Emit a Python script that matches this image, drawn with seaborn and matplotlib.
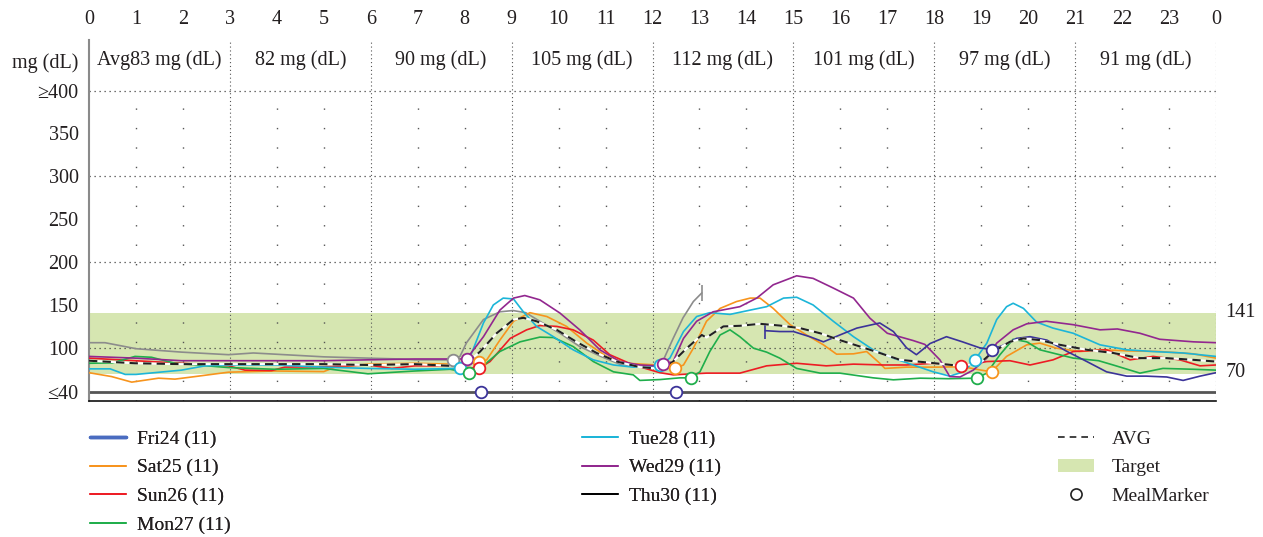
import matplotlib
matplotlib.use('Agg')
import matplotlib.pyplot as plt
from matplotlib.lines import Line2D
from matplotlib.patches import Patch
import seaborn as sns

# ---- data (hours of day, mg/dL) ----
HOURS = list(range(25))
HOUR_LABELS = [str(h % 24) for h in HOURS]
BLOCK_LABELS = ['Avg83 mg (dL)', '82 mg (dL)', '90 mg (dL)', '105 mg (dL)',
                '112 mg (dL)', '101 mg (dL)', '97 mg (dL)', '91 mg (dL)']
Y_TICKS = [100, 150, 200, 250, 300, 350, 400]
LOW_ROW = 49        # where the "<=40" row is drawn
HEADER_ROW = 435    # where the "mg (dL)" header row is drawn
TARGET = (70, 141)

gray_h = [0, 0.34, 1.0, 1.97, 2.97, 3.5, 4.17, 5.0, 5.94, 6.62, 6.94, 7.75, 7.9, 8.04, 8.4, 8.75,
          9.03, 9.3, 9.6, 10.03, 10.45, 10.9, 11.3, 11.73, 12.1, 12.2, 12.44, 12.65, 12.87, 13.05]
gray_v = [106, 106, 99, 95, 92, 94, 92, 89.5, 88, 87, 86, 86, 90, 106, 133, 142,
          143.5, 141, 131, 117, 101.5, 90, 81, 78, 78, 82, 111, 135, 154, 164]

fri_h = [14.4, 14.71, 15.0, 15.35, 15.64, 15.99, 16.35, 16.84, 17.13, 17.41, 17.62, 17.91, 18.26,
         18.6, 18.97, 19.22, 19.47, 19.75, 20.04, 20.4, 20.82, 21.25, 21.67, 22.1, 22.52, 22.95,
         23.3, 23.66, 24.0]
fri_v = [120, 119, 119, 113, 107, 115, 123, 129, 119, 100, 92, 105, 113,
         107, 100, 98, 103, 111, 113, 109, 96, 84, 72, 67, 67, 66,
         62, 67, 71]

sat_h = [0, 0.48, 0.91, 1.48, 1.83, 2.26, 2.97, 3.96, 5.0, 5.24, 5.94, 6.94, 7.69, 8.3, 8.47, 8.75,
         9.04, 9.39, 9.75, 10.17, 10.6, 11.02, 11.45, 12.09, 12.48, 12.66, 12.87, 13.15, 13.44,
         13.79, 14.08, 14.29, 14.57, 14.93, 15.28, 15.64, 15.92, 16.28, 16.56, 16.84, 16.95, 17.41,
         18.05, 18.6, 19.0, 19.22, 19.54, 19.97, 20.25, 20.6, 21.1, 21.6, 22.1, 22.8, 23.52, 24.0]
sat_v = [71, 66.5, 60, 64.6, 63.5, 66.5, 71.6, 73, 72.3, 77.5, 81, 82, 81, 83, 86, 109,
         131, 141, 136.5, 125, 105.5, 90, 82, 80, 76, 80, 99.6, 131, 146,
         154, 158, 158, 146, 127, 115, 103.5, 92.6, 93, 95.7, 82, 76, 77.5,
         77.5, 78, 74, 72, 90, 103.5, 105.5, 99.6, 95.7, 97.7, 96.5, 95.7, 93, 88]

sun_h = [0, 0.98, 1.97, 2.97, 3.32, 3.89, 4.17, 5.0, 5.94, 6.45, 6.94, 7.69, 8.3, 8.54, 8.97, 9.32,
         9.6, 9.96, 10.31, 10.74, 11.09, 11.59, 12.16, 12.44, 13.15, 13.86, 14.43, 15.07, 15.7,
         16.28, 16.91, 17.41, 17.98, 18.58, 19.12, 19.61, 20.04, 20.53, 20.96, 21.67, 22.17,
         22.66, 23.23, 23.66, 24.0]
sun_v = [88, 85, 82, 79, 74, 73.5, 77.5, 78, 80, 76, 79, 79, 76, 84, 111, 121,
         126, 125, 121, 109, 92, 80, 71, 68.5, 70.5, 70.5, 79, 82, 79,
         81, 80, 80, 82, 79, 84, 85, 80, 86, 95.7, 97.7, 86,
         90, 86, 79, 80]

mon_h = [0, 0.5, 0.98, 1.33, 1.83, 2.97, 3.96, 5.0, 5.6, 5.94, 6.94, 7.69, 8.09, 8.33, 8.75, 9.18,
         9.6, 9.89, 10.31, 10.74, 11.17, 11.59, 11.73, 12.16, 12.58, 12.81, 13.01, 13.22, 13.44,
         13.65, 13.86, 14.15, 14.43, 14.71, 15.07, 15.57, 15.99, 16.7, 17.13, 17.7, 18.3, 18.9,
         19.12, 19.4, 19.68, 19.97, 20.25, 20.96, 21.5, 21.81, 22.38, 22.87, 23.52, 24.0]
mon_v = [82, 82.5, 90, 89, 82, 77, 75, 76, 72, 69.7, 73, 75, 71, 76, 95.7, 107,
         112.5, 112, 101.5, 84, 72, 68.5, 62, 63, 65, 65, 72, 95.7, 115,
         121, 113, 99.6, 95, 88, 76, 70.5, 70.5, 65, 62.7, 64.6, 64, 64.6,
         70.5, 92, 110, 107, 97.7, 88, 85, 80, 70.5, 76, 75, 74]

tue_h = [0, 0.45, 0.77, 1.0, 1.97, 2.47, 2.97, 3.96, 5.0, 5.94, 6.94, 7.9, 8.15, 8.4, 8.61, 8.82,
         9.04, 9.25, 9.53, 9.89, 10.31, 10.74, 11.17, 11.59, 12.09, 12.16, 12.37, 12.66, 12.94,
         13.22, 13.65, 14.08, 14.43, 14.79, 15.07, 15.42, 15.85, 16.28, 16.7, 17.13, 17.55, 17.98,
         18.33, 18.62, 18.87, 19.12, 19.33, 19.54, 19.68, 19.9, 20.18, 20.53, 20.96, 21.53, 22.1,
         22.66, 23.3, 24.0]
tue_v = [75.5, 75.5, 69, 69, 74, 79, 80, 80, 77.5, 76, 75, 76, 94, 129, 150, 158,
         157, 142, 125, 113, 97.7, 86, 80, 77.5, 77.5, 80, 88, 119, 136.5,
         141, 139, 144, 148, 158, 159, 150, 131, 113, 97.7, 88, 80, 72,
         67, 72, 86, 105.5, 133, 148, 152, 146, 130, 123, 117, 103.5, 97.7,
         95.7, 94, 90]

wed_h = [0, 0.98, 1.97, 2.97, 3.96, 5.0, 5.94, 6.94, 8.04, 8.4, 8.75, 9.04, 9.28, 9.6, 10.03, 10.45,
         10.88, 11.3, 11.73, 12.09, 12.23, 12.44, 12.66, 12.94, 13.29, 13.86, 14.22, 14.57, 15.07,
         15.42, 15.85, 16.28, 16.63, 17.0, 17.55, 17.8, 18.12, 18.33, 18.55, 18.83, 19.12, 19.33,
         19.68, 19.97, 20.39, 20.96, 21.53, 21.9, 22.38, 22.8, 23.52, 24.0]
wed_v = [90, 88, 85, 85, 85, 85, 86, 87, 87, 113, 144, 158, 161, 156, 140.5, 121,
         97.7, 84, 80, 79, 81, 84, 111, 131, 142, 148, 158, 173.5, 184,
         181, 169.7, 158, 134.6, 117, 108.5, 104, 86, 66.5, 66, 74, 88, 105.5,
         121, 128, 131, 127, 121, 122, 117, 110, 107, 106]

avg_h = [0, 0.98, 1.97, 2.97, 3.96, 5.0, 5.94, 6.94, 7.69, 8.04, 8.33, 8.68, 9.04, 9.25, 9.53, 9.96,
         10.38, 10.81, 11.24, 11.73, 12.09, 12.16, 12.44, 12.73, 13.05, 13.15, 13.51, 13.86, 14.29,
         14.71, 15.14, 15.57, 15.99, 16.42, 16.84, 17.27, 17.84, 18.55, 18.97, 19.26, 19.61, 19.9,
         20.25, 20.68, 21.25, 21.81, 22.38, 22.95, 23.52, 24.0]
avg_v = [85, 82, 81, 81, 81, 81, 80, 81, 79, 82, 95.7, 117, 133, 135, 131, 121,
         107, 94, 84, 77.5, 76, 74, 84, 99.6, 115, 112, 125, 125.7, 128,
         126, 123, 117, 109, 101.5, 94, 86, 83, 79, 82, 95.7, 107, 111,
         109, 103.5, 97.7, 94, 88, 88, 86, 84]

# meal markers (hour, value) per day
meal_gray = ([7.75], [86])
meal_fri = ([8.35, 12.5, 19.22], [LOW_ROW, LOW_ROW, 98])
meal_sat = ([8.3, 12.48, 19.22], [83, 76, 72])
meal_sun = ([8.3, 18.58], [76, 79])
meal_mon = ([8.09, 12.81, 18.9], [71, 65, 64.6])
meal_tue = ([7.9, 12.16, 18.87], [76, 80, 86])
meal_wed = ([8.04, 12.23], [87, 81])

C_FRI, C_FRI_LEG = '#3b3399', '#4a6cc0'
C_SAT, C_SUN, C_MON = '#f7941d', '#ed1c24', '#1fae4b'
C_TUE, C_WED, C_GRAY = '#1cb5d8', '#92278f', '#8c8c8c'
C_TARGET = '#d6e6b1'

sns.set_theme(style='white')
plt.rcParams['font.family'] = ['Liberation Serif', 'DejaVu Serif']
plt.rcParams['text.color'] = '#231f20'
plt.rcParams['xtick.color'] = '#231f20'
plt.rcParams['ytick.labelcolor'] = '#231f20'
FS = 14.5

fig = plt.figure(figsize=(12.63, 5.37), dpi=100)
ax = fig.add_axes([89 / 1263, 1 - 401 / 537, (1216 - 89) / 1263, (401 - 40) / 537])
ax.set_xlim(0, 24)
ax.set_ylim(38, 459)

# target band and grid
ax.axhspan(*TARGET, color=C_TARGET, lw=0, zorder=0)
top_frac = (400 - 38) / (459 - 38)
for h in HOURS[1:]:
    if h % 3:
        ax.axvline(h, 0, top_frac, color='#555555', lw=1, ls=(0, (1, 13)), zorder=1)
    else:
        ax.axvline(h, color='#555555', lw=0.8, ls=(0, (1, 2.5)), zorder=1)
for v in (100, 200, 300, 400):
    ax.axhline(v, color='#444444', lw=0.9, ls=(0, (1, 3)), zorder=1)
ax.axhline(LOW_ROW, color='#555555', lw=2, zorder=1)

# day curves
days = [(gray_h, gray_v, C_GRAY), (sat_h, sat_v, C_SAT), (sun_h, sun_v, C_SUN),
        (mon_h, mon_v, C_MON), (tue_h, tue_v, C_TUE), (wed_h, wed_v, C_WED),
        (fri_h, fri_v, C_FRI)]
for xs, ys, c in days:
    sns.lineplot(x=xs, y=ys, color=c, lw=1.2, sort=False, estimator=None, ax=ax, zorder=3)
# end / start ticks of the partial curves
ax.plot(gray_h[-1], gray_v[-1], marker='|', ms=12, mew=1.2, color=C_GRAY, zorder=3)
ax.plot(fri_h[0], fri_v[0], marker='|', ms=12, mew=1.2, color=C_FRI, zorder=3)

# average
sns.lineplot(x=avg_h, y=avg_v, color='white', lw=1.5, sort=False, estimator=None, ax=ax, zorder=4)
sns.lineplot(x=avg_h, y=avg_v, color='#222222', lw=1.5, sort=False, estimator=None, ax=ax,
             zorder=4).lines[-1].set_dashes((4, 2.5))

# meal markers
for (mh, mv), c in [(meal_gray, C_GRAY), (meal_tue, C_TUE), (meal_wed, C_WED), (meal_sat, C_SAT),
                    (meal_sun, C_SUN), (meal_mon, C_MON), (meal_fri, C_FRI)]:
    sns.scatterplot(x=mh, y=mv, s=70, facecolor='white', edgecolor=c, linewidth=1.3, ax=ax, zorder=5)

# header row
for i, lab in enumerate(BLOCK_LABELS):
    ax.text(1.5 + 3 * i, HEADER_ROW, lab, ha='center', va='center', fontsize=FS)
ax.text(24.2, TARGET[1], str(TARGET[1]), ha='left', va='center', fontsize=FS, clip_on=False)
ax.text(24.2, TARGET[0] + 1, str(TARGET[0]), ha='left', va='center', fontsize=FS, clip_on=False)

# axes
ax.xaxis.tick_top()
ax.set_xticks(HOURS)
ax.set_xticklabels(HOUR_LABELS, fontsize=FS)
ax.tick_params(axis='x', length=0, pad=8)
ax.set_yticks([LOW_ROW] + Y_TICKS + [HEADER_ROW])
ax.set_yticklabels(['≤40'] + [str(v) for v in Y_TICKS[:-1]] + ['≥400', 'mg (dL)'], fontsize=FS)
ax.tick_params(axis='y', length=3, width=0.8, direction='in', color='#888888', pad=7.5)
ax.set_xlabel('')
ax.set_ylabel('')
for s in ('top', 'right'):
    ax.spines[s].set_visible(False)
ax.spines['left'].set_color('#8a8a8a')
ax.spines['left'].set_linewidth(1.5)
ax.spines['bottom'].set_color('#111111')
ax.spines['bottom'].set_linewidth(1.2)

# legends
leg_kw = dict(frameon=False, fontsize=14, handlelength=1.85, handletextpad=0.55,
              labelspacing=0.57, borderpad=0, borderaxespad=0, loc='upper left')
h1 = [Line2D([], [], color=C_FRI_LEG, lw=2.5, label='Fri24 (11)'),
      Line2D([], [], color=C_SAT, lw=1.3, label='Sat25 (11)'),
      Line2D([], [], color=C_SUN, lw=1.3, label='Sun26 (11)'),
      Line2D([], [], color=C_MON, lw=1.3, label='Mon27 (11)')]
h2 = [Line2D([], [], color=C_TUE, lw=1.3, label='Tue28 (11)'),
      Line2D([], [], color=C_WED, lw=1.3, label='Wed29 (11)'),
      Line2D([], [], color='black', lw=1.3, label='Thu30 (11)')]
h3 = [Line2D([], [], color='#222222', lw=1.2, ls=(0, (4, 3)), label='AVG'),
      Patch(facecolor=C_TARGET, edgecolor='none', label='Target'),
      Line2D([], [], ls='', marker='o', ms=8, mfc='white', mec='#222222', mew=1.2,
             label='MealMarker')]
top = 1 - 430 / 537
fig.add_artist(fig.legend(handles=h1, bbox_to_anchor=(90 / 1263, top), **leg_kw))
fig.add_artist(fig.legend(handles=h2, bbox_to_anchor=(582 / 1263, top), **leg_kw))
fig.legend(handles=h3, bbox_to_anchor=(1058 / 1263, top), **{**leg_kw, 'handletextpad': 0.9})

fig.savefig('out.png', dpi=100)
